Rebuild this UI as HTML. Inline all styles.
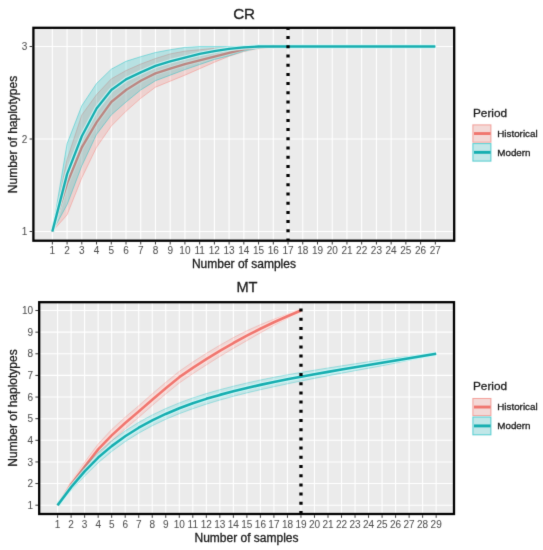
<!DOCTYPE html>
<html><head><meta charset="utf-8"><title>Haplotype accumulation curves</title>
<style>html,body{margin:0;padding:0;background:#fff;}
svg{display:block;}
.t{fill:#1A1A1A;stroke:#1A1A1A;stroke-width:0.30px;}
.tl text{fill:#505050;stroke:#505050;stroke-width:0.05px;}</style></head>
<body>
<svg width="543" height="550" viewBox="0 0 543 550" font-family="Liberation Sans, Arial, sans-serif">
<defs><filter id="soft" x="0" y="0" width="543" height="550" filterUnits="userSpaceOnUse" color-interpolation-filters="sRGB"><feConvolveMatrix order="3" kernelMatrix="0.01000 0.08000 0.01000 0.08000 0.64000 0.08000 0.01000 0.08000 0.01000" divisor="1" edgeMode="duplicate"/></filter><clipPath id="c1"><rect x="33.4" y="27.8" width="420.8" height="212.9"/></clipPath>
<clipPath id="c2"><rect x="39.2" y="302.2" width="414.8" height="211.8"/></clipPath></defs>
<g filter="url(#soft)"><rect width="543" height="550" fill="#FFFFFF"/>
<rect x="33.4" y="27.8" width="420.80" height="212.90" fill="#EBEBEB"/>
<path d="M52.35 27.8V240.7M67.08 27.8V240.7M81.81 27.8V240.7M96.54 27.8V240.7M111.27 27.8V240.7M126.00 27.8V240.7M140.73 27.8V240.7M155.46 27.8V240.7M170.19 27.8V240.7M184.92 27.8V240.7M199.65 27.8V240.7M214.38 27.8V240.7M229.11 27.8V240.7M243.84 27.8V240.7M258.57 27.8V240.7M273.30 27.8V240.7M288.03 27.8V240.7M302.76 27.8V240.7M317.49 27.8V240.7M332.22 27.8V240.7M346.95 27.8V240.7M361.68 27.8V240.7M376.41 27.8V240.7M391.14 27.8V240.7M405.87 27.8V240.7M420.60 27.8V240.7M435.33 27.8V240.7M33.4 231.50H454.2M33.4 139.00H454.2M33.4 46.50H454.2" stroke="#FFFFFF" stroke-width="1.1" fill="none"/>
<g clip-path="url(#c1)">
<polygon points="52.35,231.50 67.08,159.35 81.81,114.95 96.54,94.60 111.27,78.88 126.00,70.55 140.73,64.07 155.46,58.52 170.19,53.90 184.92,51.12 199.65,49.74 214.38,48.35 229.11,47.42 243.84,46.50 258.57,46.50 273.30,46.50 288.03,46.50 288.03,46.50 273.30,46.96 258.57,48.35 243.84,51.59 229.11,56.21 214.38,62.22 199.65,68.70 184.92,75.18 170.19,81.19 155.46,87.20 140.73,98.30 126.00,111.25 111.27,126.05 96.54,147.32 81.81,177.85 67.08,214.85 52.35,231.50" fill="#F8766D" fill-opacity="0.22"/>
<polyline points="52.35,231.50 67.08,159.35 81.81,114.95 96.54,94.60 111.27,78.88 126.00,70.55 140.73,64.07 155.46,58.52 170.19,53.90 184.92,51.12 199.65,49.74 214.38,48.35 229.11,47.42 243.84,46.50 258.57,46.50 273.30,46.50 288.03,46.50" fill="none" stroke="#F8766D" stroke-opacity="0.4" stroke-width="1.0"/>
<polyline points="52.35,231.50 67.08,214.85 81.81,177.85 96.54,147.32 111.27,126.05 126.00,111.25 140.73,98.30 155.46,87.20 170.19,81.19 184.92,75.18 199.65,68.70 214.38,62.22 229.11,56.21 243.84,51.59 258.57,48.35 273.30,46.96 288.03,46.50" fill="none" stroke="#F8766D" stroke-opacity="0.4" stroke-width="1.0"/>
<polyline points="52.35,231.50 67.08,183.40 81.81,147.32 96.54,122.35 111.27,102.00 126.00,89.98 140.73,80.73 155.46,73.33 170.19,68.70 184.92,64.07 199.65,60.38 214.38,56.67 229.11,52.97 243.84,49.27 258.57,47.42 273.30,46.50 288.03,46.50" fill="none" stroke="#FFE4E0" stroke-opacity="0.8" stroke-width="4.550000000000001" stroke-linejoin="round"/>
<polyline points="52.35,231.50 67.08,183.40 81.81,147.32 96.54,122.35 111.27,102.00 126.00,89.98 140.73,80.73 155.46,73.33 170.19,68.70 184.92,64.07 199.65,60.38 214.38,56.67 229.11,52.97 243.84,49.27 258.57,47.42 273.30,46.50 288.03,46.50" fill="none" stroke="#F0766F" stroke-width="2.35" stroke-linejoin="round"/>
<polygon points="52.35,231.50 67.08,143.62 81.81,105.70 96.54,83.50 111.27,69.16 126.00,61.30 140.73,56.67 155.46,52.51 170.19,49.74 184.92,47.42 199.65,46.50 214.38,46.50 229.11,46.50 243.84,46.50 258.57,46.50 273.30,46.50 288.03,46.50 302.76,46.50 317.49,46.50 332.22,46.50 346.95,46.50 361.68,46.50 376.41,46.50 391.14,46.50 405.87,46.50 420.60,46.50 435.33,46.50 435.33,46.50 420.60,46.50 405.87,46.50 391.14,46.50 376.41,46.50 361.68,46.50 346.95,46.50 332.22,46.50 317.49,46.50 302.76,46.50 288.03,46.50 273.30,46.50 258.57,48.35 243.84,51.12 229.11,55.75 214.38,59.45 199.65,64.54 184.92,69.62 170.19,75.18 155.46,80.73 140.73,89.98 126.00,102.00 111.27,114.95 96.54,134.38 81.81,165.82 67.08,204.68 52.35,231.50" fill="#00BFC4" fill-opacity="0.22"/>
<polyline points="52.35,231.50 67.08,143.62 81.81,105.70 96.54,83.50 111.27,69.16 126.00,61.30 140.73,56.67 155.46,52.51 170.19,49.74 184.92,47.42 199.65,46.50 214.38,46.50 229.11,46.50 243.84,46.50 258.57,46.50 273.30,46.50 288.03,46.50 302.76,46.50 317.49,46.50 332.22,46.50 346.95,46.50 361.68,46.50 376.41,46.50 391.14,46.50 405.87,46.50 420.60,46.50 435.33,46.50" fill="none" stroke="#00BFC4" stroke-opacity="0.4" stroke-width="1.0"/>
<polyline points="52.35,231.50 67.08,204.68 81.81,165.82 96.54,134.38 111.27,114.95 126.00,102.00 140.73,89.98 155.46,80.73 170.19,75.18 184.92,69.62 199.65,64.54 214.38,59.45 229.11,55.75 243.84,51.12 258.57,48.35 273.30,46.50 288.03,46.50 302.76,46.50 317.49,46.50 332.22,46.50 346.95,46.50 361.68,46.50 376.41,46.50 391.14,46.50 405.87,46.50 420.60,46.50 435.33,46.50" fill="none" stroke="#00BFC4" stroke-opacity="0.4" stroke-width="1.0"/>
<polyline points="52.35,231.50 67.08,174.15 81.81,136.23 96.54,108.47 111.27,89.98 126.00,79.34 140.73,72.40 155.46,65.92 170.19,61.30 184.92,57.60 199.65,53.90 214.38,51.12 229.11,48.81 243.84,47.42 258.57,46.50 273.30,46.50 288.03,46.50 302.76,46.50 317.49,46.50 332.22,46.50 346.95,46.50 361.68,46.50 376.41,46.50 391.14,46.50 405.87,46.50 420.60,46.50 435.33,46.50" fill="none" stroke="#D4FAFA" stroke-opacity="0.8" stroke-width="4.550000000000001" stroke-linejoin="round"/>
<polyline points="52.35,231.50 67.08,174.15 81.81,136.23 96.54,108.47 111.27,89.98 126.00,79.34 140.73,72.40 155.46,65.92 170.19,61.30 184.92,57.60 199.65,53.90 214.38,51.12 229.11,48.81 243.84,47.42 258.57,46.50 273.30,46.50 288.03,46.50 302.76,46.50 317.49,46.50 332.22,46.50 346.95,46.50 361.68,46.50 376.41,46.50 391.14,46.50 405.87,46.50 420.60,46.50 435.33,46.50" fill="none" stroke="#16AEB0" stroke-width="2.35" stroke-linejoin="round"/>
<path d="M288.03 241.50V27.8" stroke="#000" stroke-width="3.3" stroke-dasharray="3.0 6.2"/>
</g>
<rect x="33.4" y="27.8" width="420.80" height="212.90" fill="none" stroke="#000" stroke-width="2.3"/>
<path d="M52.35 241.89999999999998v2.6M67.08 241.89999999999998v2.6M81.81 241.89999999999998v2.6M96.54 241.89999999999998v2.6M111.27 241.89999999999998v2.6M126.00 241.89999999999998v2.6M140.73 241.89999999999998v2.6M155.46 241.89999999999998v2.6M170.19 241.89999999999998v2.6M184.92 241.89999999999998v2.6M199.65 241.89999999999998v2.6M214.38 241.89999999999998v2.6M229.11 241.89999999999998v2.6M243.84 241.89999999999998v2.6M258.57 241.89999999999998v2.6M273.30 241.89999999999998v2.6M288.03 241.89999999999998v2.6M302.76 241.89999999999998v2.6M317.49 241.89999999999998v2.6M332.22 241.89999999999998v2.6M346.95 241.89999999999998v2.6M361.68 241.89999999999998v2.6M376.41 241.89999999999998v2.6M391.14 241.89999999999998v2.6M405.87 241.89999999999998v2.6M420.60 241.89999999999998v2.6M435.33 241.89999999999998v2.6M32.199999999999996 231.50h-2.6M32.199999999999996 139.00h-2.6M32.199999999999996 46.50h-2.6" stroke="#3A3A3A" stroke-width="1.0"/>
<g class="tl" font-size="10" text-anchor="middle">
<text x="52.35" y="253.8">1</text>
<text x="67.08" y="253.8">2</text>
<text x="81.81" y="253.8">3</text>
<text x="96.54" y="253.8">4</text>
<text x="111.27" y="253.8">5</text>
<text x="126.00" y="253.8">6</text>
<text x="140.73" y="253.8">7</text>
<text x="155.46" y="253.8">8</text>
<text x="170.19" y="253.8">9</text>
<text x="184.92" y="253.8">10</text>
<text x="199.65" y="253.8">11</text>
<text x="214.38" y="253.8">12</text>
<text x="229.11" y="253.8">13</text>
<text x="243.84" y="253.8">14</text>
<text x="258.57" y="253.8">15</text>
<text x="273.30" y="253.8">16</text>
<text x="288.03" y="253.8">17</text>
<text x="302.76" y="253.8">18</text>
<text x="317.49" y="253.8">19</text>
<text x="332.22" y="253.8">20</text>
<text x="346.95" y="253.8">21</text>
<text x="361.68" y="253.8">22</text>
<text x="376.41" y="253.8">23</text>
<text x="391.14" y="253.8">24</text>
<text x="405.87" y="253.8">25</text>
<text x="420.60" y="253.8">26</text>
<text x="435.33" y="253.8">27</text>
</g><g class="tl" font-size="10" text-anchor="end">
<text x="27.20" y="235.10">1</text>
<text x="27.20" y="142.60">2</text>
<text x="27.20" y="50.10">3</text>
</g>
<text class="t" x="244.1" y="18.9" text-anchor="middle" font-size="15.2">CR</text>
<text class="t" x="243.9" y="267.5" text-anchor="middle" font-size="12">Number of samples</text>
<text class="t" transform="translate(16.6 134.5) rotate(-90)" text-anchor="middle" font-size="12">Number of haplotypes</text>
<text class="t" x="473" y="116.9" font-size="11.8">Period</text>
<rect x="472.2" y="124.2" width="19.4" height="18.7" fill="#F2F2F2"/>
<rect x="472.9" y="124.9" width="18" height="17.30" fill="#F8766D" fill-opacity="0.2" stroke="#F8766D" stroke-opacity="0.6" stroke-width="1.0"/>
<path d="M474 133.55H490.6" stroke="#F0766F" stroke-width="2.9"/>
<text class="t" x="497.3" y="137" font-size="9.8">Historical</text>
<rect x="472.2" y="142.9" width="19.4" height="18.9" fill="#F2F2F2"/>
<rect x="472.9" y="143.6" width="18" height="17.50" fill="#00BFC4" fill-opacity="0.2" stroke="#00BFC4" stroke-opacity="0.6" stroke-width="1.0"/>
<path d="M474 152.35H490.6" stroke="#16AEB0" stroke-width="2.9"/>
<text class="t" x="497.3" y="155.9" font-size="9.8">Modern</text>
<rect x="39.2" y="302.2" width="414.80" height="211.80" fill="#EBEBEB"/>
<path d="M57.60 302.2V514.0M71.12 302.2V514.0M84.64 302.2V514.0M98.16 302.2V514.0M111.68 302.2V514.0M125.20 302.2V514.0M138.72 302.2V514.0M152.24 302.2V514.0M165.76 302.2V514.0M179.28 302.2V514.0M192.80 302.2V514.0M206.32 302.2V514.0M219.84 302.2V514.0M233.36 302.2V514.0M246.88 302.2V514.0M260.40 302.2V514.0M273.92 302.2V514.0M287.44 302.2V514.0M300.96 302.2V514.0M314.48 302.2V514.0M328.00 302.2V514.0M341.52 302.2V514.0M355.04 302.2V514.0M368.56 302.2V514.0M382.08 302.2V514.0M395.60 302.2V514.0M409.12 302.2V514.0M422.64 302.2V514.0M436.16 302.2V514.0M39.2 505.20H454.0M39.2 483.57H454.0M39.2 461.94H454.0M39.2 440.31H454.0M39.2 418.68H454.0M39.2 397.05H454.0M39.2 375.42H454.0M39.2 353.79H454.0M39.2 332.16H454.0M39.2 310.53H454.0" stroke="#FFFFFF" stroke-width="1.1" fill="none"/>
<g clip-path="url(#c2)">
<polygon points="57.60,505.20 71.12,481.62 84.64,462.37 98.16,443.99 111.68,429.50 125.20,417.17 138.72,405.70 152.24,393.81 165.76,382.34 179.28,371.31 192.80,362.01 206.32,353.32 219.84,345.21 233.36,337.60 246.88,330.69 260.40,324.66 273.92,319.27 287.44,314.28 300.96,310.53 300.96,310.53 287.44,318.17 273.92,325.32 260.40,332.88 246.88,340.64 233.36,348.42 219.84,356.46 206.32,365.00 192.80,373.69 179.28,382.99 165.76,394.02 152.24,405.49 138.72,417.38 125.20,428.85 111.68,441.18 98.16,454.80 84.64,471.02 71.12,487.25 57.60,505.20" fill="#F8766D" fill-opacity="0.16"/>
<polyline points="57.60,505.20 71.12,481.62 84.64,462.37 98.16,443.99 111.68,429.50 125.20,417.17 138.72,405.70 152.24,393.81 165.76,382.34 179.28,371.31 192.80,362.01 206.32,353.32 219.84,345.21 233.36,337.60 246.88,330.69 260.40,324.66 273.92,319.27 287.44,314.28 300.96,310.53" fill="none" stroke="#F8766D" stroke-opacity="0.3" stroke-width="1.0"/>
<polyline points="57.60,505.20 71.12,487.25 84.64,471.02 98.16,454.80 111.68,441.18 125.20,428.85 138.72,417.38 152.24,405.49 165.76,394.02 179.28,382.99 192.80,373.69 206.32,365.00 219.84,356.46 233.36,348.42 246.88,340.64 260.40,332.88 273.92,325.32 287.44,318.17 300.96,310.53" fill="none" stroke="#F8766D" stroke-opacity="0.3" stroke-width="1.0"/>
<polyline points="57.60,505.20 71.12,484.44 84.64,466.70 98.16,449.39 111.68,435.34 125.20,423.01 138.72,411.54 152.24,399.65 165.76,388.18 179.28,377.15 192.80,367.85 206.32,359.16 219.84,350.83 233.36,343.01 246.88,335.66 260.40,328.77 273.92,322.29 287.44,316.22 300.96,310.53" fill="none" stroke="#FFE4E0" stroke-opacity="0.8" stroke-width="4.800000000000001" stroke-linejoin="round"/>
<polyline points="57.60,505.20 71.12,484.44 84.64,466.70 98.16,449.39 111.68,435.34 125.20,423.01 138.72,411.54 152.24,399.65 165.76,388.18 179.28,377.15 192.80,367.85 206.32,359.16 219.84,350.83 233.36,343.01 246.88,335.66 260.40,328.77 273.92,322.29 287.44,316.22 300.96,310.53" fill="none" stroke="#F0766F" stroke-width="2.6" stroke-linejoin="round"/>
<polygon points="57.60,505.20 71.12,484.22 84.64,466.91 98.16,452.42 111.68,440.71 125.20,430.83 138.72,422.32 152.24,414.95 165.76,408.52 179.28,402.88 192.80,397.90 206.32,393.57 219.84,389.69 233.36,386.18 246.88,382.97 260.40,380.01 273.92,377.26 287.44,374.77 300.96,372.42 314.48,370.16 328.00,367.99 341.52,365.87 355.04,363.80 368.56,361.75 382.08,359.71 395.60,357.91 409.12,356.32 422.64,354.73 436.16,353.79 436.16,353.79 422.64,357.33 409.12,360.21 395.60,363.10 382.08,365.77 368.56,368.24 355.04,370.72 341.52,373.23 328.00,375.78 314.48,378.38 300.96,381.07 287.44,383.86 273.92,386.77 260.40,389.75 246.88,392.92 233.36,396.34 219.84,400.07 206.32,404.17 192.80,408.72 179.28,413.70 165.76,419.33 152.24,425.76 138.72,433.14 125.20,441.65 111.68,451.52 98.16,462.81 84.64,476.00 71.12,490.28 57.60,505.20" fill="#00BFC4" fill-opacity="0.16"/>
<polyline points="57.60,505.20 71.12,484.22 84.64,466.91 98.16,452.42 111.68,440.71 125.20,430.83 138.72,422.32 152.24,414.95 165.76,408.52 179.28,402.88 192.80,397.90 206.32,393.57 219.84,389.69 233.36,386.18 246.88,382.97 260.40,380.01 273.92,377.26 287.44,374.77 300.96,372.42 314.48,370.16 328.00,367.99 341.52,365.87 355.04,363.80 368.56,361.75 382.08,359.71 395.60,357.91 409.12,356.32 422.64,354.73 436.16,353.79" fill="none" stroke="#00BFC4" stroke-opacity="0.3" stroke-width="1.0"/>
<polyline points="57.60,505.20 71.12,490.28 84.64,476.00 98.16,462.81 111.68,451.52 125.20,441.65 138.72,433.14 152.24,425.76 165.76,419.33 179.28,413.70 192.80,408.72 206.32,404.17 219.84,400.07 233.36,396.34 246.88,392.92 260.40,389.75 273.92,386.77 287.44,383.86 300.96,381.07 314.48,378.38 328.00,375.78 341.52,373.23 355.04,370.72 368.56,368.24 382.08,365.77 395.60,363.10 409.12,360.21 422.64,357.33 436.16,353.79" fill="none" stroke="#00BFC4" stroke-opacity="0.3" stroke-width="1.0"/>
<polyline points="57.60,505.20 71.12,487.25 84.64,471.46 98.16,457.61 111.68,446.12 125.20,436.24 138.72,427.73 152.24,420.35 165.76,413.93 179.28,408.29 192.80,403.31 206.32,398.87 219.84,394.88 233.36,391.26 246.88,387.95 260.40,384.88 273.92,382.02 287.44,379.31 300.96,376.74 314.48,374.27 328.00,371.88 341.52,369.55 355.04,367.26 368.56,364.99 382.08,362.74 395.60,360.50 409.12,358.27 422.64,356.03 436.16,353.79" fill="none" stroke="#D4FAFA" stroke-opacity="0.8" stroke-width="4.800000000000001" stroke-linejoin="round"/>
<polyline points="57.60,505.20 71.12,487.25 84.64,471.46 98.16,457.61 111.68,446.12 125.20,436.24 138.72,427.73 152.24,420.35 165.76,413.93 179.28,408.29 192.80,403.31 206.32,398.87 219.84,394.88 233.36,391.26 246.88,387.95 260.40,384.88 273.92,382.02 287.44,379.31 300.96,376.74 314.48,374.27 328.00,371.88 341.52,369.55 355.04,367.26 368.56,364.99 382.08,362.74 395.60,360.50 409.12,358.27 422.64,356.03 436.16,353.79" fill="none" stroke="#16AEB0" stroke-width="2.6" stroke-linejoin="round"/>
<path d="M300.96 514.00V302.2" stroke="#000" stroke-width="3.3" stroke-dasharray="3.0 6.2"/>
</g>
<rect x="39.2" y="302.2" width="414.80" height="211.80" fill="none" stroke="#000" stroke-width="2.3"/>
<path d="M57.60 515.2v2.6M71.12 515.2v2.6M84.64 515.2v2.6M98.16 515.2v2.6M111.68 515.2v2.6M125.20 515.2v2.6M138.72 515.2v2.6M152.24 515.2v2.6M165.76 515.2v2.6M179.28 515.2v2.6M192.80 515.2v2.6M206.32 515.2v2.6M219.84 515.2v2.6M233.36 515.2v2.6M246.88 515.2v2.6M260.40 515.2v2.6M273.92 515.2v2.6M287.44 515.2v2.6M300.96 515.2v2.6M314.48 515.2v2.6M328.00 515.2v2.6M341.52 515.2v2.6M355.04 515.2v2.6M368.56 515.2v2.6M382.08 515.2v2.6M395.60 515.2v2.6M409.12 515.2v2.6M422.64 515.2v2.6M436.16 515.2v2.6M38.0 505.20h-2.6M38.0 483.57h-2.6M38.0 461.94h-2.6M38.0 440.31h-2.6M38.0 418.68h-2.6M38.0 397.05h-2.6M38.0 375.42h-2.6M38.0 353.79h-2.6M38.0 332.16h-2.6M38.0 310.53h-2.6" stroke="#3A3A3A" stroke-width="1.0"/>
<g class="tl" font-size="10" text-anchor="middle">
<text x="57.60" y="527.9">1</text>
<text x="71.12" y="527.9">2</text>
<text x="84.64" y="527.9">3</text>
<text x="98.16" y="527.9">4</text>
<text x="111.68" y="527.9">5</text>
<text x="125.20" y="527.9">6</text>
<text x="138.72" y="527.9">7</text>
<text x="152.24" y="527.9">8</text>
<text x="165.76" y="527.9">9</text>
<text x="179.28" y="527.9">10</text>
<text x="192.80" y="527.9">11</text>
<text x="206.32" y="527.9">12</text>
<text x="219.84" y="527.9">13</text>
<text x="233.36" y="527.9">14</text>
<text x="246.88" y="527.9">15</text>
<text x="260.40" y="527.9">16</text>
<text x="273.92" y="527.9">17</text>
<text x="287.44" y="527.9">18</text>
<text x="300.96" y="527.9">19</text>
<text x="314.48" y="527.9">20</text>
<text x="328.00" y="527.9">21</text>
<text x="341.52" y="527.9">22</text>
<text x="355.04" y="527.9">23</text>
<text x="368.56" y="527.9">24</text>
<text x="382.08" y="527.9">25</text>
<text x="395.60" y="527.9">26</text>
<text x="409.12" y="527.9">27</text>
<text x="422.64" y="527.9">28</text>
<text x="436.16" y="527.9">29</text>
</g><g class="tl" font-size="10" text-anchor="end">
<text x="33.00" y="508.80">1</text>
<text x="33.00" y="487.17">2</text>
<text x="33.00" y="465.54">3</text>
<text x="33.00" y="443.91">4</text>
<text x="33.00" y="422.28">5</text>
<text x="33.00" y="400.65">6</text>
<text x="33.00" y="379.02">7</text>
<text x="33.00" y="357.39">8</text>
<text x="33.00" y="335.76">9</text>
<text x="33.00" y="314.13">10</text>
</g>
<text class="t" x="247" y="291.9" text-anchor="middle" font-size="14.6">MT</text>
<text class="t" x="246.5" y="541.5" text-anchor="middle" font-size="12">Number of samples</text>
<text class="t" transform="translate(16.6 408) rotate(-90)" text-anchor="middle" font-size="12">Number of haplotypes</text>
<text class="t" x="473" y="390.2" font-size="11.8">Period</text>
<rect x="472.2" y="397.8" width="19.4" height="18.5" fill="#F2F2F2"/>
<rect x="472.9" y="398.5" width="18" height="17.10" fill="#F8766D" fill-opacity="0.2" stroke="#F8766D" stroke-opacity="0.6" stroke-width="1.0"/>
<path d="M474 407.05H490.6" stroke="#F0766F" stroke-width="2.9"/>
<text class="t" x="497.3" y="410" font-size="9.8">Historical</text>
<rect x="472.2" y="416.3" width="19.4" height="19.2" fill="#F2F2F2"/>
<rect x="472.9" y="417.0" width="18" height="17.80" fill="#00BFC4" fill-opacity="0.2" stroke="#00BFC4" stroke-opacity="0.6" stroke-width="1.0"/>
<path d="M474 425.90H490.6" stroke="#16AEB0" stroke-width="2.9"/>
<text class="t" x="497.3" y="429.3" font-size="9.8">Modern</text>
</g></svg>
</body></html>
